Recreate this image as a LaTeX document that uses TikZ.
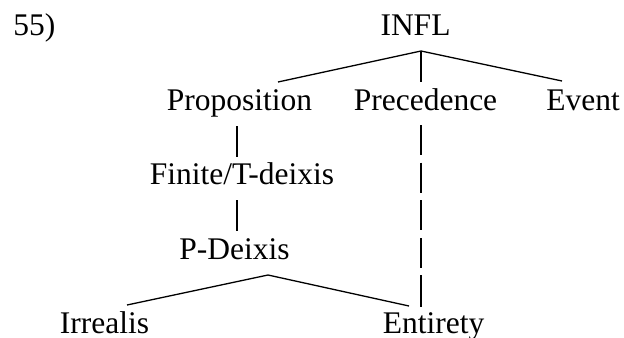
\documentclass[tikz,border=0pt]{standalone}
\usepackage{fontspec}
\setmainfont{Liberation Serif}
\begin{document}
\begin{tikzpicture}[x=0.5pt,y=-0.5pt,
  lbl/.style={anchor=base,inner sep=0pt,font=\fontsize{15.75}{18}\selectfont},
  edge/.style={line width=0.65pt},
  dashedge/.style={line width=0.65pt,dash pattern=on 15pt off 3.85pt},
  boldedge/.style={line width=1.25pt}]
\useasboundingbox (0,0) rectangle (624,337);
% labels
\node[lbl,anchor=base west] (num) at (13,35) {55)};
\node[lbl] (infl) at (415.5,35) {INFL};
\node[lbl] (prop) at (239.5,110) {Proposition};
\node[lbl] (prec) at (425.5,110) {Precedence};
\node[lbl] (event) at (583,110) {Event};
\node[lbl] (fin) at (242,184) {Finite/T-deixis};
\node[lbl] (pdx) at (234.5,259) {P-Deixis};
\node[lbl] (irr) at (104.5,333) {Irrealis};
\node[lbl] (ent) at (433.5,333) {Entirety};
% connector end points
\coordinate (inflB) at (421,51);
\coordinate (propT) at (278,82);
\coordinate (precT) at (421,82);
\coordinate (eventT) at (562,81);
\coordinate (propB) at (237,126);
\coordinate (finT) at (237,157);
\coordinate (finB) at (237,200);
\coordinate (pdxT) at (237,231);
\coordinate (pdxB) at (268,275);
\coordinate (irrT) at (127,305);
\coordinate (entL) at (409,306);
\coordinate (precB) at (421,125);
\coordinate (dashE) at (421,268);
\coordinate (boldS) at (421,275);
\coordinate (entT) at (421,307);
% connectors
\draw[edge] (propT) -- (inflB) -- (eventT);
\draw[edge] (inflB) -- (precT);
\draw[edge] (propB) -- (finT);
\draw[edge] (finB) -- (pdxT);
\draw[edge] (irrT) -- (pdxB) -- (entL);
\draw[dashedge] (precB) -- (dashE);
\draw[boldedge] (boldS) -- (entT);
\end{tikzpicture}
\end{document}
